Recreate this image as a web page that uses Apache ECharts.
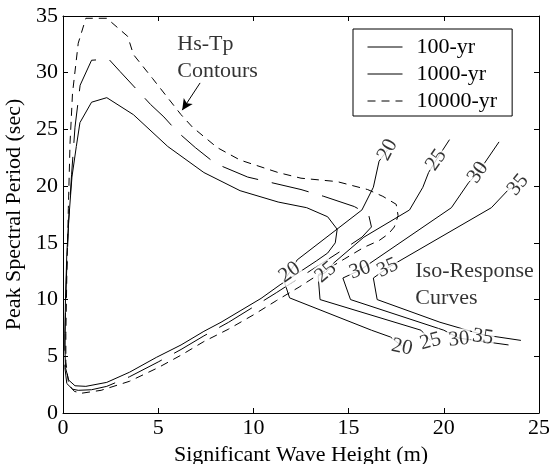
<!DOCTYPE html>
<html>
<head>
<meta charset="utf-8">
<script src="https://cdn.jsdelivr.net/npm/echarts@6/dist/echarts.min.js"></script>
<style>
  html, body { margin: 0; padding: 0; background: #fff; }
  #chart { width: 549px; height: 464px; }
</style>
</head>
<body>
<div id="chart"></div>
<script>
// Hs-Tp contours, [Hs (m), Tp (s)]
const c100 = [
  [0.63, 2.4], [1.2, 2.35], [2.3, 2.7], [3.5, 3.6], [4.9, 4.9], [6.2, 6.0], [7.4, 7.2],
  [8.3, 8.0], [9.3, 9.0], [10.4, 10.1], [11.4, 11.3], [12.4, 12.4], [13.3, 13.4],
  [13.9, 14.1], [14.3, 15.0], [14.4, 16.2], [13.9, 17.3], [12.8, 18.1], [11.3, 18.6],
  [9.3, 19.6], [7.4, 21.2], [5.5, 23.5], [3.7, 26.3], [2.3, 27.8], [1.5, 27.4],
  [0.89, 25.6], [0.7, 23.5], [0.47, 20.8], [0.3, 17], [0.2, 14], [0.13, 10], [0.1, 6],
  [0.13, 4], [0.3, 2.9], [0.63, 2.4]
]
const c1000 = [
  [0.8, 2.0], [1.5, 2.05], [2.3, 2.35], [3.5, 3.2], [5, 4.5], [6.2, 5.6], [7.4, 6.8],
  [8.7, 8.0], [10, 9.35], [11.2, 10.6], [12.4, 11.9], [13.6, 13.2], [14.8, 14.5],
  [15.7, 15.5], [16.2, 16.4], [16.05, 17.5], [15.3, 18.2], [13.7, 19.1], [12.5, 19.7],
  [9.7, 20.8], [8.0, 22.0], [6.95, 23.4], [6.0, 24.8], [5.3, 26.1], [4.6, 27.2],
  [3.0, 30.1], [2.4, 31.2], [1.5, 31.1], [0.9, 28.9], [0.63, 25.2], [0.45, 21],
  [0.3, 17], [0.18, 12], [0.1, 7], [0.1, 4], [0.2, 2.6], [0.5, 2.1], [0.8, 2.0]
]
const c10000 = [
  [1.0, 1.75], [2, 2.0], [3.5, 2.8], [5, 4.0], [6.2, 5.1], [7.4, 6.3], [8.7, 7.4],
  [10, 8.65], [11.2, 9.9], [12.4, 11.1], [13.6, 12.4], [14.8, 13.6], [15.8, 14.6],
  [16.6, 15.2], [17.1, 15.8], [17.4, 16.4], [17.6, 17.4], [17.5, 18.4], [16.8, 19.1],
  [16.0, 19.7], [14.4, 20.4], [12.5, 20.7], [11.3, 21.2], [9.3, 22.3], [8.1, 23.4],
  [6.8, 25.2], [6.2, 26.3], [4.7, 29.5], [3.7, 31.6], [3.4, 33.2], [2.3, 34.8],
  [1.2, 34.8], [0.8, 32.6], [0.5, 28.2], [0.37, 23.8], [0.28, 18], [0.2, 12],
  [0.15, 7], [0.15, 4.5], [0.3, 2.5], [0.6, 1.9], [1.0, 1.75]
]

// iso-response curves
const iso20 = [
  [17.05, 23.2], [16.6, 22.2], [16.3, 19.9], [15.7, 17.9], [12.3, 13.5], [11.9, 12.4],
  [11.6, 11.7], [11.9, 10.15], [16.2, 7.3], [17.2, 6.7], [17.8, 5.9]
]
const iso25 = [
  [20.3, 24.1], [19.6, 22.3], [19.2, 21.2], [18.9, 19.9], [18.2, 17.9], [15.8, 15.5],
  [14.2, 13.2], [13.8, 12.4], [13.4, 12.1], [13.5, 10.0], [18.8, 7.3], [19.3, 6.4]
]
const iso30 = [
  [22.9, 23.9], [21.8, 21.2], [21.3, 20.3], [20.4, 18.1], [15.6, 12.6], [14.7, 11.9],
  [15.1, 10.0], [20.0, 7.3], [20.8, 6.6], [23.4, 6.0]
]
const iso35 = [
  [23.9, 20.1], [23.4, 19.7], [22.5, 18.1], [17.05, 12.8], [16.3, 11.9], [16.5, 10.0],
  [19.8, 8.0], [22.05, 6.9], [24.05, 6.4]
]

// contour labels: [Hs, Tp, text, angle]
const isoLabels = [
  [17.05, 23.2, '20', 62], [19.6, 22.3, '25', 55], [21.8, 21.2, '30', 55], [23.9, 20.1, '35', 50],
  [11.9, 12.4, '20', 35], [13.8, 12.4, '25', 40], [15.6, 12.6, '30', 20], [17.05, 12.8, '35', 25],
  [17.8, 5.8, '20', -12], [19.3, 6.3, '25', 15], [20.8, 6.5, '30', 5], [22.05, 6.7, '35', -8]
]

const xTicks = { min: 0, max: 25, step: 5 }
const yTicks = { min: 0, max: 35, step: 5 }

const FONT = "'Liberation Serif', 'Times New Roman', Times, serif"
const chart = echarts.init(document.getElementById('chart'))

const axisCommon = {
  type: 'value',
  axisLine: { show: true, onZero: false, lineStyle: { color: '#000', width: 1 } },
  axisTick: { show: true, inside: true, length: 5, lineStyle: { color: '#000' } },
  splitLine: { show: false }
}

const contour = (name, data, type) => ({
  name: name,
  type: 'line',
  data: data,
  symbol: 'none',
  animation: false,
  itemStyle: { color: '#000' },
  lineStyle: { color: '#000', width: 1, type: type },
  z: 2
})

const iso = (data) => ({
  type: 'line',
  data: data,
  symbol: 'none',
  animation: false,
  lineStyle: { color: '#000', width: 1 },
  z: 3
})

chart.setOption({
  animation: false,
  grid: { left: 63, right: 10, top: 16, bottom: 51, containLabel: false, outerBoundsMode: 'none' },
  legend: {
    left: 353,
    top: 29,
    orient: 'vertical',
    itemWidth: 35,
    itemHeight: 13,
    itemGap: 5,
    padding: [7, 15, 4, 14],
    borderColor: '#000',
    borderWidth: 1,
    borderRadius: 0,
    backgroundColor: '#fff',
    itemStyle: { opacity: 0 },
    lineStyle: { width: 1 },
    textStyle: { fontFamily: FONT, fontSize: 22, color: '#000', padding: [0, 0, 0, 9] },
    data: [
      { name: '100-yr' },
      { name: '1000-yr', lineStyle: { type: 'solid' } },
      { name: '10000-yr' }
    ]
  },
  xAxis: [
    Object.assign({}, axisCommon, {
      min: xTicks.min, max: xTicks.max, interval: xTicks.step, position: 'bottom',
      axisLabel: { color: '#000', fontFamily: FONT, fontSize: 22, margin: 4 },
      name: 'Significant Wave Height (m)',
      nameLocation: 'middle',
      nameGap: 26,
      nameTextStyle: { color: '#000', fontFamily: FONT, fontSize: 22 }
    }),
    Object.assign({}, axisCommon, {
      min: xTicks.min, max: xTicks.max, interval: xTicks.step, position: 'top',
      axisLabel: { show: false }
    })
  ],
  yAxis: [
    Object.assign({}, axisCommon, {
      min: yTicks.min, max: yTicks.max, interval: yTicks.step, position: 'left',
      axisLabel: { color: '#000', fontFamily: FONT, fontSize: 22, margin: 5 },
      name: 'Peak Spectral Period (sec)',
      nameLocation: 'middle',
      nameGap: 31,
      nameTextStyle: { color: '#000', fontFamily: FONT, fontSize: 22 }
    }),
    Object.assign({}, axisCommon, {
      min: yTicks.min, max: yTicks.max, interval: yTicks.step, position: 'right',
      axisLabel: { show: false }
    })
  ],
  series: [
    contour('100-yr', c100, 'solid'),
    contour('1000-yr', c1000, [38, 14]),
    contour('10000-yr', c10000, [8, 6]),
    iso(iso20),
    iso(iso25),
    iso(iso30),
    iso(iso35),
    {
      type: 'scatter',
      symbolSize: 1,
      itemStyle: { color: 'rgba(0,0,0,0)' },
      z: 5,
      data: isoLabels.map(d => ({
        value: [d[0], d[1]],
        label: { formatter: d[2], rotate: d[3] }
      })),
      label: {
        show: true,
        position: 'inside',
        align: 'center',
        verticalAlign: 'middle',
        color: '#000',
        fontFamily: FONT,
        fontSize: 21,
        backgroundColor: '#fff',
        padding: [0, 1]
      }
    },
    {
      type: 'scatter',
      symbolSize: 1,
      itemStyle: { color: 'rgba(0,0,0,0)' },
      z: 5,
      data: [
        { value: [6.0, 31.3], label: { formatter: 'Hs-Tp\nContours' } },
        { value: [18.5, 11.35], label: { formatter: 'Iso-Response\nCurves' } }
      ],
      label: {
        show: true,
        position: 'inside',
        align: 'left',
        verticalAlign: 'middle',
        color: '#000',
        fontFamily: FONT,
        fontSize: 22,
        lineHeight: 27
      },
      markLine: {
        silent: true,
        animation: false,
        symbol: ['none', 'arrow'],
        symbolSize: [8, 11],
        label: { show: false },
        lineStyle: { color: '#000', width: 1, type: 'solid' },
        data: [[{ coord: [7.2, 29.1] }, { coord: [6.26, 26.7] }]]
      }
    }
  ]
})
</script>
</body>
</html>
